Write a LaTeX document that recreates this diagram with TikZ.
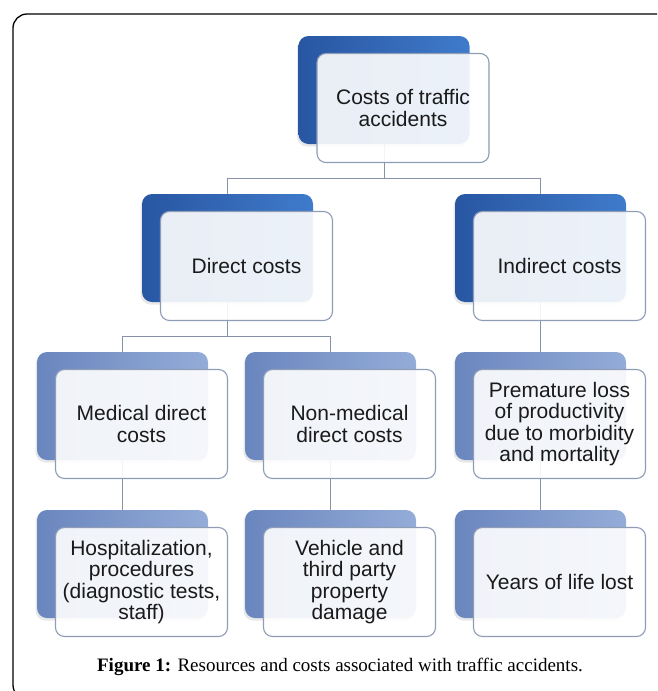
\documentclass[tikz,border=0pt]{standalone}
\usepackage{fontspec}
\setmainfont{Liberation Serif}
\setsansfont{Liberation Sans}
\usetikzlibrary{backgrounds,calc,shadows}
\definecolor{deepblue}{HTML}{2856A2}
\definecolor{midblue}{HTML}{3F7BCB}
\definecolor{slateA}{HTML}{6A86BE}
\definecolor{slateB}{HTML}{94ACD8}
\definecolor{edgegray}{HTML}{8E9CB6}
\definecolor{linkgray}{HTML}{8592A8}
\definecolor{inkgray}{HTML}{1A1A1A}

\begin{document}
\begin{tikzpicture}[x=1pt, y=1pt, node distance = 158pt,
  back/.style = {rectangle, rounded corners=10pt, minimum width=171pt, minimum height=108pt,
                 drop shadow={shadow xshift=-1.5pt, shadow yshift=-2.5pt, opacity=.18}},
  darkback/.style = {back, left color=deepblue, right color=midblue},
  lightback/.style = {back, left color=slateA, right color=slateB},
  front/.style = {rectangle, rounded corners=9pt, draw=edgegray, line width=1.1pt,
                  fill=white, fill opacity=.9, text opacity=1, text=inkgray,
                  minimum width=172pt, minimum height=109pt, align=center,
                  font=\sffamily\fontsize{21}{21.6}\selectfont, xshift=19pt, yshift=-18pt},
  link/.style = {draw=linkgray, line width=1pt}]
  \useasboundingbox (0,0) rectangle (657,-691);
  \clip (0,0) rectangle (657,-691);
  \draw[line width=1.3pt, rounded corners=14pt] (13,-14) rectangle (690,-699);

  % back boxes
  \node[darkback] at (384,-90) (top) {};
  \node[darkback, below of=top, xshift=-156.5pt] (direct) {};
  \node[darkback, below of=top, xshift=156.5pt] (indirect) {};
  \node[lightback, below of=direct, xshift=-105pt] (medical) {};
  \node[lightback, below of=direct, xshift=103pt] (nonmed) {};
  \node[lightback, below of=indirect] (loss) {};
  \node[lightback, below of=medical] (hosp) {};
  \node[lightback, below of=nonmed] (vehicle) {};
  \node[lightback, below of=loss] (years) {};

  % front boxes
  \node[front] at (top) (topF) {Costs of traffic\\accidents};
  \node[front] at (direct) (directF) {Direct costs};
  \node[front] at (indirect) (indirectF) {Indirect costs};
  \node[front] at (medical) (medicalF) {Medical direct\\costs};
  \node[front] at (nonmed) (nonmedF) {Non-medical\\direct costs};
  \node[front] at (loss) (lossF) {Premature loss\\of productivity\\due to morbidity\\and mortality};
  \node[front] at (hosp) (hospF) {Hospitalization,\\procedures\\(diagnostic tests,\\staff)};
  \node[front] at (vehicle) (vehicleF) {Vehicle and\\third party\\property\\damage};
  \node[front] at (years) (yearsF) {Years of life lost};

  \begin{pgfonlayer}{background}
    \draw[link] (top.center) |- ($(topF.south)!.5!(direct.north)$) -| (direct.center);
    \draw[link] (top.center) |- ($(topF.south)!.5!(indirect.north)$) -| (indirect.center);
    \draw[link] (direct.center) |- ($(directF.south)!.5!(medical.north)$) -| (medical.center);
    \draw[link] (direct.center) |- ($(directF.south)!.5!(nonmed.north)$) -| (nonmed.center);
    \draw[link] (indirect.center) -- (loss.center);
    \draw[link] (medical.center) -- (hosp.center);
    \draw[link] (nonmed.center) -- (vehicle.center);
    \draw[link] (loss.center) -- (years.center);
  \end{pgfonlayer}

  \node[anchor=base, font=\fontsize{19}{22}\selectfont] at (340,-671) (caption)
    {\textbf{Figure 1:} Resources and costs associated with traffic accidents.};
\end{tikzpicture}
\end{document}
